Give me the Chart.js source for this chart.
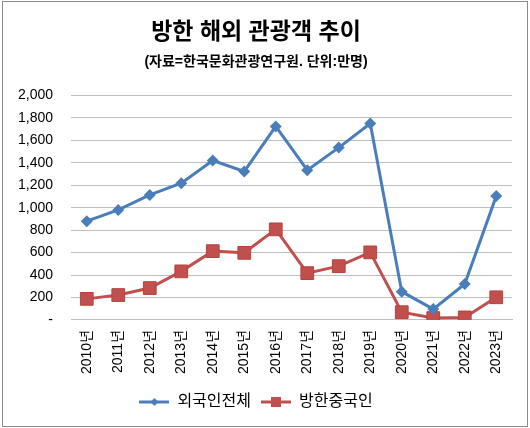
<!DOCTYPE html>
<html>
<head>
<meta charset="utf-8">
<script src="https://cdn.jsdelivr.net/npm/chart.js@4"></script>
<style>
  body { margin: 0; background: #fff; }
  #wrap { position: relative; width: 530px; height: 428px; }
  #frame { position: absolute; left: 2px; top: 1px; width: 524px; height: 424px; border: 1px solid #8c8c8c; pointer-events: none; }
</style>
</head>
<body>
<div id="wrap">
  <canvas id="chart" width="530" height="428"></canvas>
  <div id="frame"></div>
</div>
<script>
const years = ['2010년', '2011년', '2012년', '2013년', '2014년', '2015년', '2016년',
  '2017년', '2018년', '2019년', '2020년', '2021년', '2022년', '2023년']
const foreignTotal = [880, 980, 1114, 1218, 1420, 1323, 1724, 1334, 1535, 1750, 252, 97, 320, 1103]
const chineseVisitors = [188, 222, 284, 433, 613, 598, 807, 417, 479, 602, 69, 17, 23, 202]
const yMax = 2000
const yStep = 200

const blue = '#4a7ebb'
const red = '#c0504d'
const fontFamily = "'Liberation Sans', 'Noto Sans CJK KR', sans-serif"

// legend swatch: a short line with the marker on it
function legendSwatch(color, style) {
  const c = document.createElement('canvas')
  c.width = 30
  c.height = 14
  const g = c.getContext('2d')
  g.strokeStyle = color
  g.lineWidth = 3
  g.beginPath()
  g.moveTo(0, 7)
  g.lineTo(30, 7)
  g.stroke()
  g.fillStyle = color
  if (style === 'diamond') {
    g.beginPath()
    g.moveTo(15, 3)
    g.lineTo(19, 7)
    g.lineTo(15, 11)
    g.lineTo(11, 7)
    g.closePath()
    g.fill()
  } else {
    g.fillRect(10, 2, 10, 10)
  }
  return c
}
const swatches = [legendSwatch(blue, 'diamond'), legendSwatch(red, 'square')]

var ctx = document.getElementById('chart').getContext('2d')

var lineChart = new Chart(ctx, {
  type: 'line',
  data: {
    labels: years,
    datasets: [{
      label: '외국인전체',
      data: foreignTotal,
      borderColor: blue,
      backgroundColor: blue,
      borderWidth: 3,
      pointStyle: 'rectRot',
      pointRadius: 6,
      pointBorderWidth: 0,
      tension: 0
    }, {
      label: '방한중국인',
      data: chineseVisitors,
      borderColor: red,
      backgroundColor: red,
      borderWidth: 3,
      pointStyle: 'rect',
      pointRadius: 9,
      pointBorderWidth: 1,
      pointBorderColor: '#b8413e',
      tension: 0
    }]
  },
  options: {
    responsive: false,
    animation: false,
    devicePixelRatio: 1,
    layout: {
      // tick padding counts twice in the axis size, hence the small left value
      padding: { left: 0, right: 18, top: 0, bottom: 8 }
    },
    scales: {
      x: {
        offset: true,
        grid: { display: false, drawTicks: false },
        border: { display: true, color: '#bfbfbf', width: 1 },
        ticks: {
          color: '#000',
          font: { family: fontFamily, size: 14 },
          maxRotation: 90,
          minRotation: 90,
          padding: 10
        }
      },
      y: {
        min: 0,
        max: yMax,
        grid: { color: '#bfbfbf', lineWidth: 1, drawTicks: false },
        border: { display: false },
        ticks: {
          stepSize: yStep,
          color: '#000',
          font: { family: fontFamily, size: 14 },
          padding: 18,
          callback: function (v) {
            return v === 0 ? '-' : v.toLocaleString('en-US')
          }
        }
      }
    },
    plugins: {
      title: {
        display: true,
        text: '방한 해외 관광객 추이',
        color: '#000',
        font: { family: fontFamily, size: 23, weight: 'bold' },
        padding: { top: 19, bottom: 6 }
      },
      subtitle: {
        display: true,
        text: '(자료=한국문화관광연구원. 단위:만명)',
        color: '#000',
        font: { family: fontFamily, size: 14, weight: 'bold' },
        padding: { top: 1, bottom: 25 }
      },
      legend: {
        position: 'bottom',
        labels: {
          color: '#000',
          font: { family: fontFamily, size: 16 },
          usePointStyle: true,
          pointStyleWidth: 30,
          padding: 10,
          generateLabels: function (chart) {
            const items = Chart.defaults.plugins.legend.labels.generateLabels(chart)
            items.forEach(function (it, i) { it.pointStyle = swatches[i] })
            return items
          }
        }
      },
      tooltip: { enabled: false }
    }
  }
})
</script>
</body>
</html>
